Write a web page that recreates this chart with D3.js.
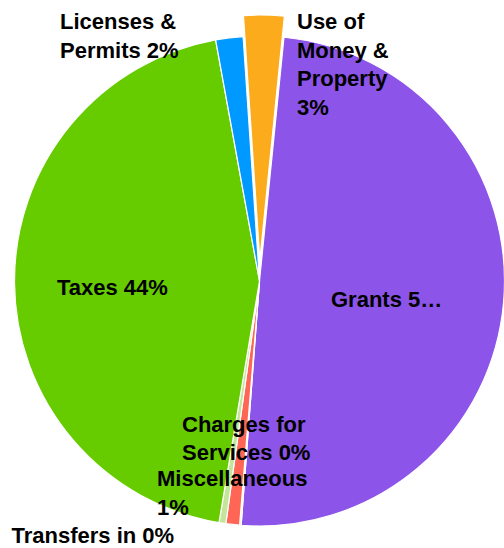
<!DOCTYPE html>
<html>
<head>
<meta charset="utf-8">
<script src="https://cdn.jsdelivr.net/npm/d3@7"></script>
<style>
  html, body { margin: 0; padding: 0; background: #fff; }
  svg { display: block; }
  .lbl { font-family: "Liberation Sans", Arial, Helvetica, sans-serif; font-weight: bold; font-size: 22px; fill: #000; }
</style>
</head>
<body>
<svg id="chart" width="504" height="548"></svg>
<script>
// Revenue sources, in share of total (%)
const categories = ["Grants", "Charges for Services", "Miscellaneous", "Transfers in", "Taxes", "Licenses & Permits", "Use of Money & Property"];
const shares     = [49.6, 0.1, 0.9, 0.45, 44.49, 1.8, 2.66];
const colors     = ["#8c54e8", "#ffdd55", "#ff6656", "#c3e69a", "#66cc00", "#0099ff", "#fbab1b"];
const exploded   = ["Use of Money & Property"];

// Label lines (last line gets the percentage appended)
const labelLines = [
  ["Grants"],
  ["Charges for", "Services"],
  ["Miscellaneous", ""],
  ["Transfers in"],
  ["Taxes"],
  ["Licenses &", "Permits"],
  ["Use of", "Money &", "Property", ""]
];

const W = 504, H = 548;
const cx = 259.5, cy = 281, R = 245;
const explodeDist = 21;
const startDeg = 5.74;

const svg = d3.select("#chart");
const g = svg.append("g").attr("transform", `translate(${cx},${cy})`);

const data = categories.map((c, i) => ({ name: c, value: shares[i], color: colors[i], lines: labelLines[i] }));

const pie = d3.pie()
  .sort(null)
  .value(d => d.value)
  .startAngle(startDeg * Math.PI / 180)
  .endAngle(startDeg * Math.PI / 180 + 2 * Math.PI);

const arc = d3.arc().innerRadius(0).outerRadius(R);
const arcs = pie(data);

g.selectAll("path.slice")
  .data(arcs)
  .join("path")
  .attr("class", "slice")
  .attr("d", arc)
  .attr("fill", d => d.data.color)
  .attr("stroke", "#fff")
  .attr("stroke-width", 1.2)
  .attr("transform", d => {
    if (!exploded.includes(d.data.name)) return null;
    const mid = (d.startAngle + d.endAngle) / 2;
    return `translate(${explodeDist * Math.sin(mid)},${-explodeDist * Math.cos(mid)})`;
  });

// Label placement (left edge and first baseline, page coordinates)
const labelAnchor = {
  "Grants": [331, 306.5],
  "Charges for Services": [182, 431.5],
  "Miscellaneous": [157, 486],
  "Transfers in": [11.5, 543],
  "Taxes": [57, 295],
  "Licenses & Permits": [60, 29],
  "Use of Money & Property": [297, 29]
};
const lineStep = 28.7;
const maxLabelWidth = { "Grants": 116 };

data.forEach(d => {
  const pct = Math.round(d.value) + "%";
  const lines = d.lines.slice();
  const last = lines.length - 1;
  lines[last] = lines[last] ? lines[last] + " " + pct : pct;
  const [x, y] = labelAnchor[d.name];
  const t = svg.append("text").attr("class", "lbl");
  lines.forEach((ln, i) => {
    const ts = t.append("tspan").attr("x", x).attr("y", y + i * lineStep).text(ln);
    const mw = maxLabelWidth[d.name];
    if (mw && ts.node().getComputedTextLength() > mw) {
      let s = ln;
      while (s.length > 1 && ts.node().getComputedTextLength() > mw) {
        s = s.slice(0, -1);
        ts.text(s + "…");
      }
    }
  });
});
</script>
</body>
</html>
